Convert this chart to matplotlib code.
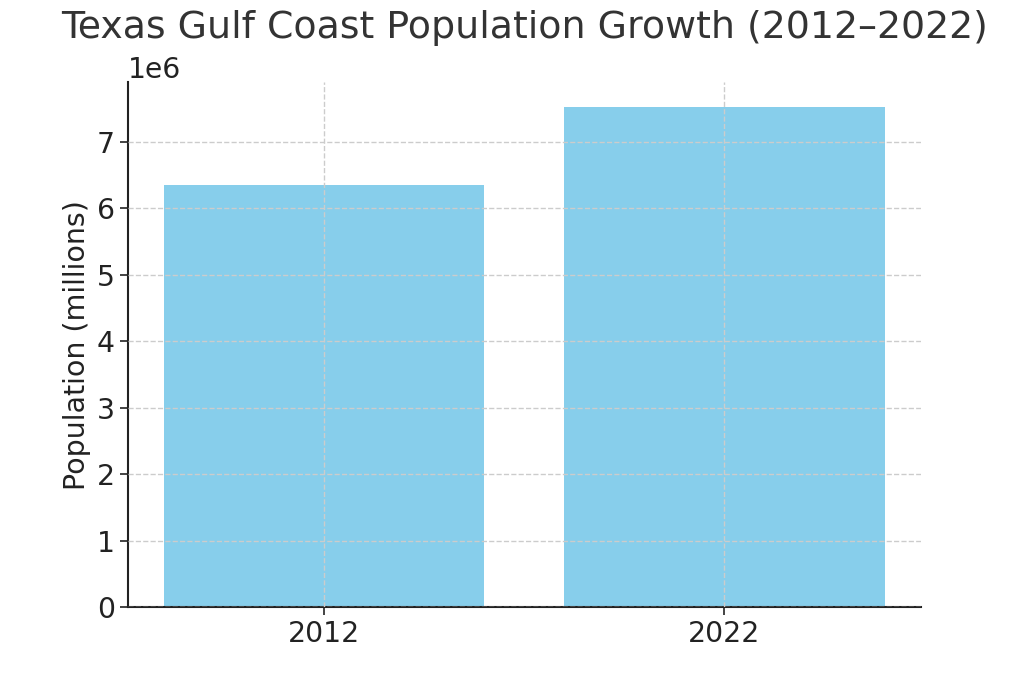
import matplotlib
matplotlib.use("Agg")
import matplotlib.pyplot as plt

years = ["2012", "2022"]
population = [6_350_000, 7_520_000]

TEXT = "#333333"
AXIS = "#222222"

fig = plt.figure(figsize=(10.24, 6.83), dpi=100)
ax = fig.add_axes([0.125, 0.111, 0.774, 0.769])

ax.bar(years, population, color="skyblue")
ax.grid(True, linestyle="--", color="#cccccc", linewidth=1.0)
ax.set_axisbelow(False)

ax.set_title("Texas Gulf Coast Population Growth (2012–2022)",
             fontsize=27.3, color=TEXT, pad=32)
ax.set_ylabel("Population (millions)", fontsize=20.5, color=AXIS)
ax.tick_params(labelsize=20.3, colors=AXIS, length=6, width=1.2)
ax.yaxis.get_offset_text().set_fontsize(20.3)
ax.yaxis.get_offset_text().set_color(AXIS)

for side in ("top", "right"):
    ax.spines[side].set_visible(False)
for side in ("left", "bottom"):
    ax.spines[side].set_color(AXIS)
    ax.spines[side].set_linewidth(1.5)

fig.savefig("out.png", dpi=100)
